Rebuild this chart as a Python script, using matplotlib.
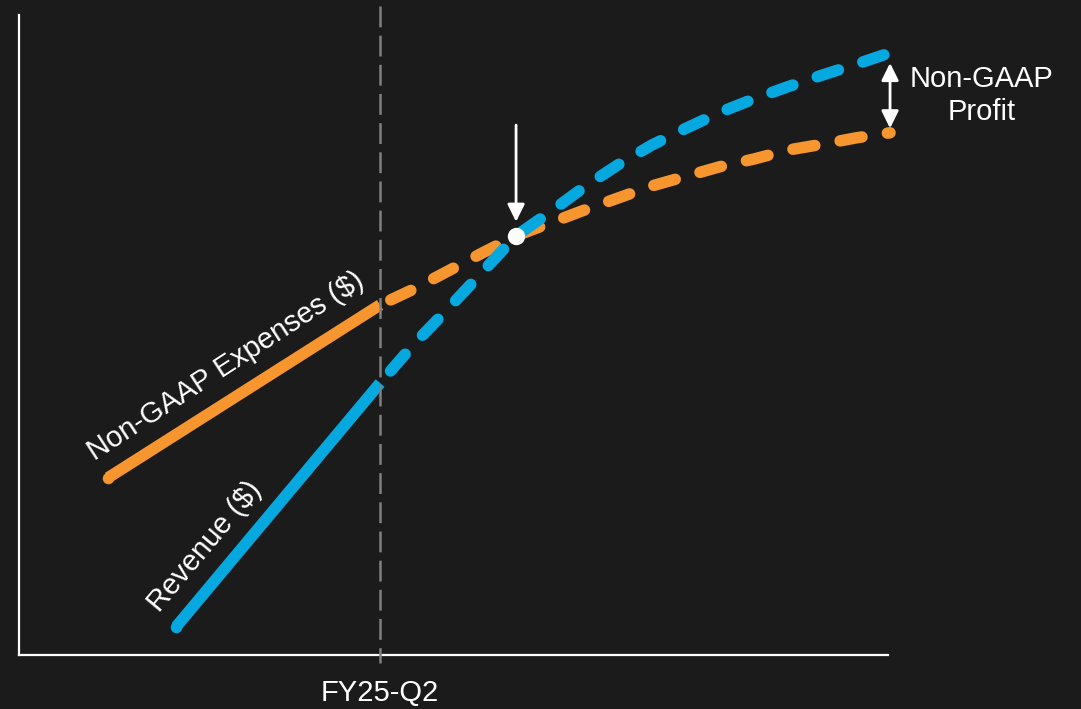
import matplotlib
matplotlib.use("Agg")
from matplotlib import pyplot as plt

BG = "#1b1b1b"
ORANGE = "#f7952f"
BLUE = "#06a8e0"

# quarters relative to FY25-Q2 (x = 0)
split_label = "FY25-Q2"

# actuals (solid)
exp_hist_x = [-4.0, 0.0]
exp_hist_y = [27.7, 54.7]
rev_hist_x = [-3.0, 0.0]
rev_hist_y = [4.4, 42.5]

# projections (dashed)
proj_x = [0.0, 0.5, 1.0, 1.5, 2.0, 2.5, 3.0, 3.5, 4.0, 4.5, 5.0, 5.5, 6.0, 6.5, 7.0, 7.5]
exp_proj_y = [54.7, 57.2, 60.0, 62.8, 65.5, 67.5, 69.5, 71.4, 73.3, 74.8, 76.3, 77.5, 78.9, 79.8, 80.8, 81.6]
rev_proj_y = [42.5, 48.6, 54.1, 59.8, 65.5, 69.2, 73.1, 76.6, 79.7, 82.3, 84.8, 86.9, 88.8, 90.6, 92.3, 94.1]

breakeven_x = 2.0
breakeven_y = 65.5

plt.rcParams["font.family"] = ["Liberation Sans", "DejaVu Sans"]
plt.rcParams["lines.scale_dashes"] = False

fig = plt.figure(figsize=(10.81, 7.09), dpi=100, facecolor=BG)
ax = fig.add_axes([19 / 1081, 54 / 709, 869 / 1081, 640 / 709])
ax.set_facecolor(BG)
ax.set_xlim(-5.31, 7.47)
ax.set_ylim(0, 100)

lw = 8.3
dash = (16.0, 18.5)

# solid actuals: round start, flat end at the split line
ax.plot(exp_hist_x, exp_hist_y, color=ORANGE, lw=lw, solid_capstyle="butt",
        marker="o", markevery=[0], ms=lw, mew=0, zorder=3)
ax.plot(rev_hist_x, rev_hist_y, color=BLUE, lw=lw, solid_capstyle="butt",
        marker="o", markevery=[0], ms=lw, mew=0, zorder=3)

# dashed projections
ax.plot(proj_x, exp_proj_y, color=ORANGE, lw=lw, dash_capstyle="round",
        linestyle=(26, dash), clip_on=False, zorder=3)
ax.plot(proj_x, rev_proj_y, color=BLUE, lw=lw, dash_capstyle="round",
        linestyle=(23, dash), clip_on=False, zorder=3)

# split line
ax.plot([0, 0], [1.014, -0.0125], color="#808080", lw=1.8,
        transform=ax.get_xaxis_transform(), clip_on=False, zorder=4,
        linestyle=(0, (15, 6)))

# breakeven marker + arrow
ax.plot([breakeven_x], [breakeven_y], "o", color="white", ms=12.5, mew=0, zorder=6)
ax.annotate("", xy=(breakeven_x, 67.7), xytext=(breakeven_x, 82.8),
            arrowprops=dict(arrowstyle="-|>,head_width=0.52,head_length=1.05",
                            color="white", lw=2, shrinkA=0, shrinkB=0), zorder=6)

# profit gap arrow
ax.annotate("", xy=(proj_x[-1], 92.5), xytext=(proj_x[-1], 82.3),
            arrowprops=dict(arrowstyle="<|-|>,head_width=0.52,head_length=1.05",
                            color="white", lw=2, shrinkA=0, shrinkB=0),
            annotation_clip=False, zorder=6)
ax.text(8.85, 87.4, "Non-GAAP\nProfit", color="white", fontsize=21,
        ha="center", va="center", linespacing=1.22, clip_on=False)

# line labels
ax.text(-2.26, 45.1, "Non-GAAP Expenses ($)", color="white", fontsize=21,
        rotation=33, rotation_mode="anchor", ha="center", va="center")
ax.text(-2.58, 17.0, "Revenue ($)", color="white", fontsize=21,
        rotation=50, rotation_mode="anchor", ha="center", va="center")

for s in ["top", "right"]:
    ax.spines[s].set_visible(False)
for s in ["left", "bottom"]:
    ax.spines[s].set_color("white")
    ax.spines[s].set_linewidth(1.6)

ax.set_xticks([0])
ax.set_xticklabels([split_label], color="white", fontsize=21)
ax.tick_params(axis="x", length=0, pad=17)
ax.set_yticks([])

fig.savefig("out.png", dpi=100, facecolor=BG)
